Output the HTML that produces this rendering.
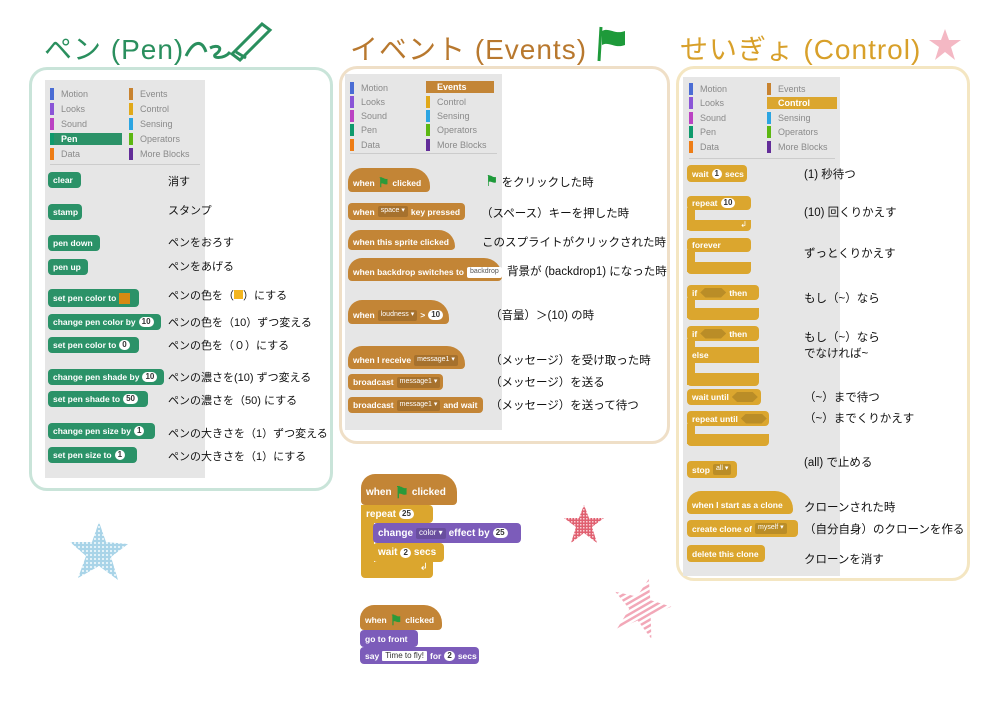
<!DOCTYPE html>
<html><head><meta charset="utf-8"><style>
body{margin:0;width:1000px;height:707px;background:#fff;position:relative;overflow:hidden;font-family:"Liberation Sans","Noto Sans CJK JP",sans-serif}
div,span{box-sizing:border-box}
.a{position:absolute}
.panel{position:absolute;border:3px solid;border-radius:18px}
.gray{position:absolute;background:#e6e6e6}
.t{position:absolute;font-size:28px;letter-spacing:1px}
.m{position:absolute;font-size:9px;color:#8a8a8a;height:12px;line-height:12px;padding-left:7px;border-left:4px solid}
.b{position:absolute;color:#fff;font-weight:bold;font-size:8.5px;border-radius:4px;padding-left:5px;white-space:nowrap;display:flex;align-items:center;gap:3px}
.in{display:inline-block;background:#fff;color:#333;border-radius:7px;padding:0 3px;font-size:8px;line-height:10px;height:10px}
.dd{display:inline-block;background:rgba(0,0,0,.15);color:#fff;border-radius:2px;padding:0 3px;font-size:7px;line-height:10px;height:11px;font-weight:normal}
.hx{display:inline-block;width:26px;height:10px;background:rgba(0,0,0,.15);clip-path:polygon(20% 0,80% 0,100% 50%,80% 100%,20% 100%,0 50%)}
.l{position:absolute;font-size:11.5px;color:#111;white-space:nowrap}
.pl{font-size:11px}
.pen{background:#2b9268}.ev{background:#c38536}.ct{background:#dba62e}.lk{background:#7c5cba}
.hat{border-radius:14px 18px 4px 4px}
</style></head><body>

<!-- titles -->
<div class="t" style="left:44px;top:28px;color:#2a8f5e">ペン (Pen)</div>
<svg class="a" style="left:184px;top:18px" width="95" height="45"><path d="M2 38 C10 22 18 22 22 34 M26 30 C34 26 40 30 32 36 C26 40 40 42 46 34" stroke="#2a8f5e" stroke-width="3" fill="none"/><path d="M48 36 L78 6 L86 12 L56 42 Z M52 34 L62 40" stroke="#2a8f5e" stroke-width="3" fill="none"/></svg>
<div class="t" style="left:350px;top:28px;color:#b8782e">イベント (Events)</div>
<svg class="a" style="left:597px;top:25px" width="32" height="38"><path d="M4 2 L2 36" stroke="#1e9a3a" stroke-width="3"/><path d="M5 6 C12 2 18 10 28 6 L28 20 C18 24 12 16 5 20 Z" fill="#1e9a3a"/></svg>
<div class="t" style="left:680px;top:28px;color:#d8a02a">せいぎょ (Control)</div>
<svg class="a" style="left:928px;top:28px" width="34" height="34"><polygon points="17,1 21,12 33,12 23,19 27,32 17,24 7,32 11,19 1,12 13,12" fill="#f4b8c4"/></svg>

<!-- panels -->
<div class="panel" style="left:29px;top:67px;width:304px;height:424px;border-color:#c9e4d9"></div>
<div class="gray" style="left:45px;top:80px;width:160px;height:398px"></div>
<div class="panel" style="left:339px;top:66px;width:331px;height:378px;border-color:#efdfc7"></div>
<div class="gray" style="left:345px;top:74px;width:157px;height:356px"></div>
<div class="panel" style="left:676px;top:66px;width:294px;height:515px;border-color:#f4e6c2"></div>
<div class="gray" style="left:683px;top:77px;width:157px;height:499px"></div>

<!-- pen menu -->
<div class="m" style="left:50px;top:88px;border-color:#4a6cd4">Motion</div>
<div class="m" style="left:50px;top:103px;border-color:#8a55d7">Looks</div>
<div class="m" style="left:50px;top:118px;border-color:#bb42c3">Sound</div>
<div class="m" style="left:50px;top:133px;border-color:#0e9a6c;background:#2b9268;color:#fff;font-weight:bold;width:72px">Pen</div>
<div class="m" style="left:50px;top:148px;border-color:#ee7d16">Data</div>
<div class="m" style="left:129px;top:88px;border-color:#c88330">Events</div>
<div class="m" style="left:129px;top:103px;border-color:#e1a91a">Control</div>
<div class="m" style="left:129px;top:118px;border-color:#2ca5e2">Sensing</div>
<div class="m" style="left:129px;top:133px;border-color:#5cb712">Operators</div>
<div class="m" style="left:129px;top:148px;border-color:#632d99">More Blocks</div>
<div class="a" style="left:50px;top:164px;width:150px;height:1px;background:#ccc"></div>

<div class="b pen" style="left:48px;top:172px;width:33px;height:16px">clear</div>
<div class="b pen" style="left:48px;top:204px;width:34px;height:16px">stamp</div>
<div class="b pen" style="left:48px;top:235px;width:52px;height:16px">pen down</div>
<div class="b pen" style="left:48px;top:259px;width:40px;height:16px">pen up</div>
<div class="b pen" style="left:48px;top:289px;width:91px;height:18px">set pen color to <span style="display:inline-block;width:11px;height:11px;background:#d58a12"></span></div>
<div class="b pen" style="left:48px;top:314px;width:113px;height:16px">change pen color by <span class="in">10</span></div>
<div class="b pen" style="left:48px;top:337px;width:91px;height:16px">set pen color to <span class="in">0</span></div>
<div class="b pen" style="left:48px;top:369px;width:116px;height:16px">change pen shade by <span class="in">10</span></div>
<div class="b pen" style="left:48px;top:391px;width:100px;height:16px">set pen shade to <span class="in">50</span></div>
<div class="b pen" style="left:48px;top:423px;width:107px;height:16px">change pen size by <span class="in">1</span></div>
<div class="b pen" style="left:48px;top:447px;width:89px;height:16px">set pen size to <span class="in">1</span></div>

<div class="l pl" style="left:168px;top:173px">消す</div>
<div class="l pl" style="left:168px;top:202px">スタンプ</div>
<div class="l pl" style="left:168px;top:234px">ペンをおろす</div>
<div class="l pl" style="left:168px;top:258px">ペンをあげる</div>
<div class="l pl" style="left:168px;top:287px">ペンの色を（<span style="display:inline-block;width:9px;height:9px;background:#f3b51f"></span>）にする</div>
<div class="l pl" style="left:168px;top:314px">ペンの色を（10）ずつ変える</div>
<div class="l pl" style="left:168px;top:337px">ペンの色を（０）にする</div>
<div class="l pl" style="left:168px;top:369px">ペンの濃さを(10) ずつ変える</div>
<div class="l pl" style="left:168px;top:392px">ペンの濃さを（50) にする</div>
<div class="l pl" style="left:168px;top:425px">ペンの大きさを（1）ずつ変える</div>
<div class="l pl" style="left:168px;top:448px">ペンの大きさを（1）にする</div>

<!-- events menu -->
<div class="m" style="left:350px;top:82px;border-color:#4a6cd4">Motion</div>
<div class="m" style="left:350px;top:96px;border-color:#8a55d7">Looks</div>
<div class="m" style="left:350px;top:110px;border-color:#bb42c3">Sound</div>
<div class="m" style="left:350px;top:124px;border-color:#0e9a6c">Pen</div>
<div class="m" style="left:350px;top:139px;border-color:#ee7d16">Data</div>
<div class="m" style="left:426px;top:81px;border-color:#c38536;background:#c38536;color:#fff;font-weight:bold;width:68px">Events</div>
<div class="m" style="left:426px;top:96px;border-color:#e1a91a">Control</div>
<div class="m" style="left:426px;top:110px;border-color:#2ca5e2">Sensing</div>
<div class="m" style="left:426px;top:124px;border-color:#5cb712">Operators</div>
<div class="m" style="left:426px;top:139px;border-color:#632d99">More Blocks</div>
<div class="a" style="left:350px;top:153px;width:147px;height:1px;background:#ccc"></div>

<div class="b ev hat" style="left:348px;top:168px;width:82px;height:24px;padding-top:5px">when <span style="color:#2a9a3a;font-size:13px">⚑</span> clicked</div>
<div class="b ev" style="left:348px;top:203px;width:117px;height:17px">when <span class="dd">space ▾</span> key pressed</div>
<div class="b ev hat" style="left:348px;top:230px;width:107px;height:20px;padding-top:4px">when this sprite clicked</div>
<div class="b ev hat" style="left:348px;top:258px;width:154px;height:23px;padding-top:5px">when backdrop switches to <span class="dd" style="background:#fff;color:#555">backdrop</span></div>
<div class="b ev hat" style="left:348px;top:300px;width:101px;height:24px;padding-top:6px">when <span class="dd">loudness ▾</span> &gt; <span class="in">10</span></div>
<div class="b ev hat" style="left:348px;top:346px;width:117px;height:23px;padding-top:5px">when I receive <span class="dd">message1 ▾</span></div>
<div class="b ev" style="left:348px;top:374px;width:95px;height:16px">broadcast <span class="dd">message1 ▾</span></div>
<div class="b ev" style="left:348px;top:397px;width:135px;height:16px">broadcast <span class="dd">message1 ▾</span> and wait</div>

<div class="l" style="left:485px;top:172px"><span style="color:#1e9a3a;font-size:15px">⚑</span> をクリックした時</div>
<div class="l" style="left:481px;top:205px">（スペース）キーを押した時</div>
<div class="l" style="left:482px;top:234px">このスプライトがクリックされた時</div>
<div class="l" style="left:507px;top:263px">背景が (backdrop1) になった時</div>
<div class="l" style="left:490px;top:307px">（音量）＞(10) の時</div>
<div class="l" style="left:490px;top:352px">（メッセージ）を受け取った時</div>
<div class="l" style="left:490px;top:374px">（メッセージ）を送る</div>
<div class="l" style="left:490px;top:397px">（メッセージ）を送って待つ</div>

<!-- control menu -->
<div class="m" style="left:689px;top:83px;border-color:#4a6cd4">Motion</div>
<div class="m" style="left:689px;top:97px;border-color:#8a55d7">Looks</div>
<div class="m" style="left:689px;top:112px;border-color:#bb42c3">Sound</div>
<div class="m" style="left:689px;top:126px;border-color:#0e9a6c">Pen</div>
<div class="m" style="left:689px;top:141px;border-color:#ee7d16">Data</div>
<div class="m" style="left:767px;top:83px;border-color:#c88330">Events</div>
<div class="m" style="left:767px;top:97px;border-color:#dba62e;background:#dba62e;color:#fff;font-weight:bold;width:70px">Control</div>
<div class="m" style="left:767px;top:112px;border-color:#2ca5e2">Sensing</div>
<div class="m" style="left:767px;top:126px;border-color:#5cb712">Operators</div>
<div class="m" style="left:767px;top:141px;border-color:#632d99">More Blocks</div>
<div class="a" style="left:689px;top:158px;width:146px;height:1px;background:#ccc"></div>

<div class="b ct" style="left:687px;top:165px;width:60px;height:17px">wait <span class="in">1</span> secs</div>
<div class="b ct" style="left:687px;top:196px;width:64px;height:14px">repeat <span class="in">10</span></div>
<div class="a ct" style="left:687px;top:208px;width:8px;height:22px"></div>
<div class="a ct" style="left:687px;top:220px;width:64px;height:11px;border-radius:0 0 4px 4px;color:#fff;font-size:8px;text-align:right;padding-right:4px">↲</div>
<div class="b ct" style="left:687px;top:238px;width:64px;height:14px">forever</div>
<div class="a ct" style="left:687px;top:250px;width:8px;height:22px"></div>
<div class="a ct" style="left:687px;top:262px;width:64px;height:12px;border-radius:0 0 4px 4px"></div>
<div class="b ct" style="left:687px;top:285px;width:72px;height:15px">if <span class="hx"></span> then</div>
<div class="a ct" style="left:687px;top:298px;width:8px;height:20px"></div>
<div class="a ct" style="left:687px;top:308px;width:72px;height:12px;border-radius:0 0 4px 4px"></div>
<div class="b ct" style="left:687px;top:326px;width:72px;height:15px">if <span class="hx"></span> then</div>
<div class="a ct" style="left:687px;top:339px;width:8px;height:46px"></div>
<div class="b ct" style="left:687px;top:347px;width:72px;height:16px;border-radius:0">else</div>
<div class="a ct" style="left:687px;top:373px;width:72px;height:13px;border-radius:0 0 4px 4px"></div>
<div class="b ct" style="left:687px;top:389px;width:74px;height:16px">wait until <span class="hx"></span></div>
<div class="b ct" style="left:687px;top:411px;width:82px;height:15px">repeat until <span class="hx"></span></div>
<div class="a ct" style="left:687px;top:424px;width:8px;height:20px"></div>
<div class="a ct" style="left:687px;top:434px;width:82px;height:12px;border-radius:0 0 4px 4px"></div>
<div class="b ct" style="left:687px;top:461px;width:50px;height:17px">stop <span class="dd">all ▾</span></div>
<div class="b ct hat" style="left:687px;top:491px;width:106px;height:23px;padding-top:5px">when I start as a clone</div>
<div class="b ct" style="left:687px;top:520px;width:111px;height:17px">create clone of <span class="dd">myself ▾</span></div>
<div class="b ct" style="left:687px;top:545px;width:78px;height:17px">delete this clone</div>

<div class="l" style="left:804px;top:166px">(1) 秒待つ</div>
<div class="l" style="left:804px;top:204px">(10) 回くりかえす</div>
<div class="l" style="left:804px;top:245px">ずっとくりかえす</div>
<div class="l" style="left:804px;top:290px">もし（~）なら</div>
<div class="l" style="left:804px;top:330px;line-height:16px">もし（~）なら<br>でなければ~</div>
<div class="l" style="left:804px;top:389px">（~）まで待つ</div>
<div class="l" style="left:804px;top:410px">（~）までくりかえす</div>
<div class="l" style="left:804px;top:454px">(all) で止める</div>
<div class="l" style="left:804px;top:499px">クローンされた時</div>
<div class="l" style="left:804px;top:521px">（自分自身）のクローンを作る</div>
<div class="l" style="left:804px;top:551px">クローンを消す</div>

<!-- script 1 -->
<div class="b ev hat" style="left:361px;top:474px;width:96px;height:31px;padding-top:6px;font-size:10px">when <span style="color:#2a9a3a;font-size:16px">⚑</span> clicked</div>
<div class="b ct" style="left:361px;top:505px;width:72px;height:18px;font-size:10px;border-radius:0 4px 4px 0">repeat <span class="in">25</span></div>
<div class="a ct" style="left:361px;top:520px;width:13px;height:50px"></div>
<div class="a ct" style="left:361px;top:562px;width:72px;height:16px;border-radius:0 0 4px 4px;color:#fff;text-align:right;padding-right:5px;font-size:10px">↲</div>
<div class="b lk" style="left:373px;top:523px;width:148px;height:20px;font-size:10px">change <span class="dd" style="font-size:8px">color ▾</span> effect by <span class="in">25</span></div>
<div class="b ct" style="left:373px;top:543px;width:71px;height:19px;font-size:10px">wait <span class="in">2</span> secs</div>

<!-- script 2 -->
<div class="b ev hat" style="left:360px;top:605px;width:82px;height:25px;padding-top:5px">when <span style="color:#2a9a3a;font-size:14px">⚑</span> clicked</div>
<div class="b lk" style="left:360px;top:630px;width:58px;height:17px">go to front</div>
<div class="b lk" style="left:360px;top:647px;width:119px;height:17px">say <span class="in" style="border-radius:1px;font-weight:normal">Time to fly!</span> for <span class="in">2</span> secs</div>

<!-- stars -->
<svg class="a" style="left:66px;top:518px" width="66" height="66"><defs><pattern id="p1" width="4" height="4" patternUnits="userSpaceOnUse"><rect width="4" height="4" fill="#a9d4e8"/><rect width="2" height="2" fill="#e3f2f8"/></pattern></defs><polygon points="33,4 40,24 62,26 45,39 52,62 33,48 12,60 20,38 4,24 26,24" fill="url(#p1)"/></svg>
<svg class="a" style="left:562px;top:503px" width="44" height="42"><defs><pattern id="p2" width="3" height="3" patternUnits="userSpaceOnUse"><rect width="3" height="3" fill="#e06070"/><rect width="1.5" height="1.5" fill="#f8d0d6"/></pattern></defs><polygon points="22,2 27,15 42,15 30,24 35,40 22,30 9,40 14,24 2,15 17,15" fill="url(#p2)"/></svg>
<svg class="a" style="left:608px;top:575px" width="66" height="66"><defs><pattern id="p3" width="5" height="5" patternUnits="userSpaceOnUse" patternTransform="rotate(45)"><rect width="5" height="5" fill="#fff"/><rect width="2.5" height="5" fill="#f2a8b8"/></pattern></defs><g transform="rotate(15 33 33)"><polygon points="33,3 40,23 62,24 44,37 51,60 33,46 15,60 22,37 4,24 26,23" fill="url(#p3)"/></g></svg>
</body></html>
